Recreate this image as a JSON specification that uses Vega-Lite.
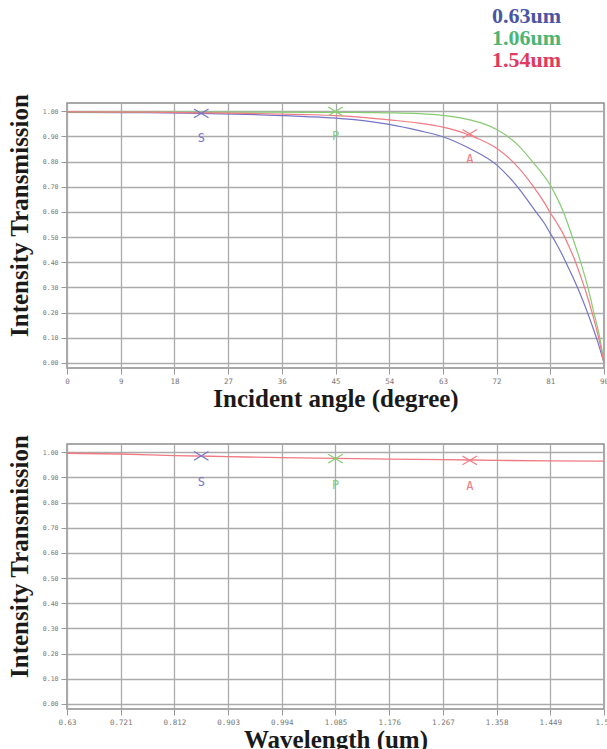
{
  "$schema": "https://vega.github.io/schema/vega-lite/v6.json",
  "background": "white",
  "padding": {"left": 6, "top": 4, "right": 0, "bottom": 0},
  "spacing": 20,
  "datasets": {
    "angle": [
      {"angle": 0, "T": 0.996, "wl": "0.63um"}, {"angle": 10, "T": 0.995, "wl": "0.63um"}, {"angle": 20, "T": 0.993, "wl": "0.63um"}, {"angle": 30, "T": 0.988, "wl": "0.63um"}, {"angle": 36, "T": 0.983, "wl": "0.63um"}, {"angle": 40, "T": 0.979, "wl": "0.63um"}, {"angle": 45, "T": 0.973, "wl": "0.63um"}, {"angle": 50, "T": 0.962, "wl": "0.63um"}, {"angle": 54, "T": 0.948, "wl": "0.63um"}, {"angle": 59, "T": 0.923, "wl": "0.63um"}, {"angle": 63, "T": 0.899, "wl": "0.63um"}, {"angle": 67.5, "T": 0.852, "wl": "0.63um"}, {"angle": 72, "T": 0.787, "wl": "0.63um"}, {"angle": 75.5, "T": 0.70, "wl": "0.63um"}, {"angle": 78.6, "T": 0.60, "wl": "0.63um"}, {"angle": 80, "T": 0.555, "wl": "0.63um"}, {"angle": 81, "T": 0.515, "wl": "0.63um"}, {"angle": 82, "T": 0.475, "wl": "0.63um"}, {"angle": 83, "T": 0.43, "wl": "0.63um"}, {"angle": 84, "T": 0.38, "wl": "0.63um"}, {"angle": 85, "T": 0.33, "wl": "0.63um"}, {"angle": 86, "T": 0.275, "wl": "0.63um"}, {"angle": 87, "T": 0.215, "wl": "0.63um"}, {"angle": 88, "T": 0.15, "wl": "0.63um"}, {"angle": 89, "T": 0.08, "wl": "0.63um"}, {"angle": 90, "T": 0.0, "wl": "0.63um"},
      {"angle": 0, "T": 0.997, "wl": "1.06um"}, {"angle": 20, "T": 0.997, "wl": "1.06um"}, {"angle": 30, "T": 0.997, "wl": "1.06um"}, {"angle": 40, "T": 0.996, "wl": "1.06um"}, {"angle": 45, "T": 0.996, "wl": "1.06um"}, {"angle": 50, "T": 0.995, "wl": "1.06um"}, {"angle": 54, "T": 0.994, "wl": "1.06um"}, {"angle": 59, "T": 0.991, "wl": "1.06um"}, {"angle": 63, "T": 0.984, "wl": "1.06um"}, {"angle": 67.5, "T": 0.966, "wl": "1.06um"}, {"angle": 70, "T": 0.949, "wl": "1.06um"}, {"angle": 72, "T": 0.928, "wl": "1.06um"}, {"angle": 74, "T": 0.898, "wl": "1.06um"}, {"angle": 76, "T": 0.856, "wl": "1.06um"}, {"angle": 78, "T": 0.80, "wl": "1.06um"}, {"angle": 79.5, "T": 0.757, "wl": "1.06um"}, {"angle": 81, "T": 0.707, "wl": "1.06um"}, {"angle": 82, "T": 0.662, "wl": "1.06um"}, {"angle": 83.2, "T": 0.60, "wl": "1.06um"}, {"angle": 84.7, "T": 0.50, "wl": "1.06um"}, {"angle": 86.1, "T": 0.40, "wl": "1.06um"}, {"angle": 87.3, "T": 0.30, "wl": "1.06um"}, {"angle": 88.3, "T": 0.20, "wl": "1.06um"}, {"angle": 89.3, "T": 0.10, "wl": "1.06um"}, {"angle": 90, "T": 0.0, "wl": "1.06um"},
      {"angle": 0, "T": 0.998, "wl": "1.54um"}, {"angle": 10, "T": 0.997, "wl": "1.54um"}, {"angle": 20, "T": 0.995, "wl": "1.54um"}, {"angle": 30, "T": 0.992, "wl": "1.54um"}, {"angle": 40, "T": 0.987, "wl": "1.54um"}, {"angle": 45, "T": 0.983, "wl": "1.54um"}, {"angle": 50, "T": 0.975, "wl": "1.54um"}, {"angle": 54, "T": 0.966, "wl": "1.54um"}, {"angle": 59, "T": 0.953, "wl": "1.54um"}, {"angle": 63, "T": 0.937, "wl": "1.54um"}, {"angle": 67.5, "T": 0.905, "wl": "1.54um"}, {"angle": 72, "T": 0.853, "wl": "1.54um"}, {"angle": 74.7, "T": 0.80, "wl": "1.54um"}, {"angle": 78.2, "T": 0.70, "wl": "1.54um"}, {"angle": 80, "T": 0.637, "wl": "1.54um"}, {"angle": 81, "T": 0.597, "wl": "1.54um"}, {"angle": 82, "T": 0.56, "wl": "1.54um"}, {"angle": 83, "T": 0.52, "wl": "1.54um"}, {"angle": 84, "T": 0.47, "wl": "1.54um"}, {"angle": 85, "T": 0.415, "wl": "1.54um"}, {"angle": 86, "T": 0.35, "wl": "1.54um"}, {"angle": 87, "T": 0.28, "wl": "1.54um"}, {"angle": 88, "T": 0.20, "wl": "1.54um"}, {"angle": 89, "T": 0.11, "wl": "1.54um"}, {"angle": 90, "T": 0.0, "wl": "1.54um"}
    ],
    "angleMarks": [
      {"angle": 22.5, "T": 0.992, "wl": "0.63um", "label": "S"},
      {"angle": 45, "T": 1.0, "wl": "1.06um", "label": "P"},
      {"angle": 67.5, "T": 0.91, "wl": "1.54um", "label": "A"}
    ],
    "wave": [
      {"lambda": 0.63, "T": 0.996}, {"lambda": 0.721, "T": 0.993}, {"lambda": 0.812, "T": 0.987}, {"lambda": 0.903, "T": 0.983}, {"lambda": 0.994, "T": 0.979}, {"lambda": 1.085, "T": 0.976}, {"lambda": 1.176, "T": 0.973}, {"lambda": 1.267, "T": 0.971}, {"lambda": 1.358, "T": 0.968}, {"lambda": 1.449, "T": 0.966}, {"lambda": 1.54, "T": 0.965}
    ],
    "waveMarks": [
      {"lambda": 0.8575, "T": 0.986, "wl": "0.63um", "label": "S"},
      {"lambda": 1.085, "T": 0.975, "wl": "1.06um", "label": "P"},
      {"lambda": 1.3125, "T": 0.968, "wl": "1.54um", "label": "A"}
    ]
  },
  "config": {
    "view": {"stroke": "#8c8c8c", "strokeWidth": 1.5},
    "axis": {
      "gridColor": "#ababab", "gridWidth": 1.3, "domain": false,
      "tickColor": "#999999", "tickSize": 6,
      "labelFont": "DejaVu Sans Mono", "labelColor": "#777777",
      "titleFont": "Liberation Serif", "titleFontWeight": "bold", "titleFontSize": 25, "titleColor": "#1a1a1a"
    },
    "axisX": {"labelFontSize": 7.5, "labelFlush": false, "labelOverlap": false, "labelPadding": 3, "titlePadding": 2},
    "axisY": {"labelFontSize": 6.5, "labelPadding": 3, "titlePadding": 10, "labelOverlap": false}
  },
  "resolve": {"legend": {"color": "independent"}},
  "vconcat": [
    {
      "width": 537, "height": 265,
      "encoding": {
        "x": {"field": "angle", "type": "quantitative", "scale": {"domain": [0, 90], "nice": false, "zero": false},
              "axis": {"title": "Incident angle (degree)", "values": [0, 9, 18, 27, 36, 45, 54, 63, 72, 81, 90], "format": "d"}},
        "y": {"field": "T", "type": "quantitative", "scale": {"domain": [-0.02, 1.033], "nice": false, "zero": false},
              "axis": {"title": "Intensity Transmission", "titleY": 112, "values": [0, 0.1, 0.2, 0.3, 0.4, 0.5, 0.6, 0.7, 0.8, 0.9, 1.0], "format": ".2f"}}
      },
      "layer": [
        {
          "data": {"name": "angle"},
          "mark": {"type": "line", "interpolate": "monotone", "strokeWidth": 1.2},
          "encoding": {
            "color": {"field": "wl", "type": "nominal",
                      "scale": {"domain": ["0.63um", "1.06um", "1.54um"], "range": ["#7474c8", "#88cc72", "#f07a82"]},
                      "legend": {"orient": "none", "legendX": 403, "legendY": -98, "title": null,
                                 "symbolOpacity": 0, "symbolSize": 0, "symbolStrokeWidth": 0, "labelOffset": 0,
                                 "labelFont": "Liberation Serif", "labelFontWeight": "bold", "labelFontSize": 22, "rowPadding": -1,
                                 "encode": {"labels": {"update": {"fill": {"signal": "datum.value === '0.63um' ? '#4a55a3' : datum.value === '1.06um' ? '#4bb574' : '#e03a60'"}}}}}}
          }
        },
        {
          "data": {"name": "angleMarks"},
          "mark": {"type": "point", "shape": "M-1,-0.6L1,0.6M-1,0.6L1,-0.6", "filled": false, "size": 210, "strokeWidth": 1.2, "opacity": 1},
          "encoding": {
            "color": {"field": "wl", "type": "nominal", "legend": null}
          }
        },
        {
          "data": {"name": "angleMarks"},
          "mark": {"type": "text", "font": "DejaVu Sans Mono", "fontSize": 12, "dy": 25},
          "encoding": {
            "text": {"field": "label"},
            "color": {"field": "wl", "type": "nominal", "legend": null}
          }
        }
      ]
    },
    {
      "width": 537, "height": 265,
      "encoding": {
        "x": {"field": "lambda", "type": "quantitative", "scale": {"domain": [0.63, 1.54], "nice": false, "zero": false},
              "axis": {"title": "Wavelength (um)", "values": [0.63, 0.721, 0.812, 0.903, 0.994, 1.085, 1.176, 1.267, 1.358, 1.449, 1.54], "format": ".3~f"}},
        "y": {"field": "T", "type": "quantitative", "scale": {"domain": [-0.02, 1.033], "nice": false, "zero": false},
              "axis": {"title": "Intensity Transmission", "titleY": 112, "values": [0, 0.1, 0.2, 0.3, 0.4, 0.5, 0.6, 0.7, 0.8, 0.9, 1.0], "format": ".2f"}}
      },
      "layer": [
        {
          "data": {"name": "wave"},
          "mark": {"type": "line", "interpolate": "monotone", "strokeWidth": 1.4, "color": "#f07a82"}
        },
        {
          "data": {"name": "waveMarks"},
          "mark": {"type": "point", "shape": "M-1,-0.6L1,0.6M-1,0.6L1,-0.6", "filled": false, "size": 210, "strokeWidth": 1.2, "opacity": 1},
          "encoding": {
            "color": {"field": "wl", "type": "nominal", "legend": null}
          }
        },
        {
          "data": {"name": "waveMarks"},
          "mark": {"type": "text", "font": "DejaVu Sans Mono", "fontSize": 12, "dy": 26},
          "encoding": {
            "text": {"field": "label"},
            "color": {"field": "wl", "type": "nominal", "legend": null}
          }
        }
      ]
    }
  ]
}
